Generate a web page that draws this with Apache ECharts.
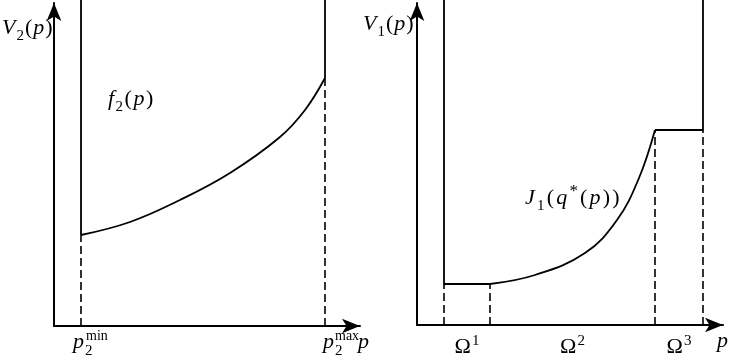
<!DOCTYPE html>
<html><head><meta charset="utf-8">
<script src="https://cdn.jsdelivr.net/npm/echarts@6/dist/echarts.min.js"></script>
<style>html,body{margin:0;padding:0;background:#fff}#c{width:730px;height:356px}</style>
</head><body><div id="c"></div>
<script>
// ---------- data (axis units) ----------
// left panel: V2(p)
const leftXMax = 306, leftYMax = 323, leftTop = 326;
const p2min = 27, p2max = 271;
const f2X = [27, 76, 126, 176, 226, 251, 271];
const f2Y = [91, 104, 126, 153, 189, 216, 248];
// right panel: V1(p)
const rightXMax = 306, rightYMax = 322, rightTop = 325;
const omegaBounds = [27, 73, 238, 286];
const lowLevel = 41, highLevel = 195;
const j1X = [73, 118, 168, 200, 222, 238];
const j1Y = [41, 50, 72, 105, 147, 195];
const omegaLabels = ['1', '2', '3'];

// ---------- chart ----------
const chart = echarts.init(document.getElementById('c'), null, {renderer: 'canvas'});
const BLACK = '#000';
function axisDef(gi, max) {
  return {type: 'value', gridIndex: gi, min: 0, max: max,
    axisLine: {show: true, onZero: false, symbol: ['none', 'arrow'], symbolSize: [11, 18],
      lineStyle: {color: BLACK, width: 2}},
    axisTick: {show: false}, axisLabel: {show: false}, splitLine: {show: false}};
}
function solid(gi, data, smooth) {
  return {type: 'line', xAxisIndex: gi, yAxisIndex: gi, data: data,
    smooth: smooth || false,
    symbol: 'none', clip: false, silent: true,
    lineStyle: {color: BLACK, width: 1.8}};
}
function dashed(gi, data) {
  return {type: 'line', xAxisIndex: gi, yAxisIndex: gi, data: data, symbol: 'none', clip: false,
    silent: true, lineStyle: {color: BLACK, width: 1.6, type: [8, 4]}};
}
const zip = (xs, ys) => xs.map((x, i) => [x, ys[i]]);
const f2 = zip(f2X, f2Y);
const j1 = zip(j1X, j1Y);
const lastF2 = f2Y[f2Y.length - 1];

const series = [
  solid(0, [[p2min, leftTop], [p2min, f2Y[0]]]),
  solid(0, f2, 0.4),
  solid(0, [[p2max, lastF2], [p2max, leftTop]]),
  dashed(0, [[p2min, 0], [p2min, f2Y[0]]]),
  dashed(0, [[p2max, 0], [p2max, lastF2]]),
  solid(1, [[omegaBounds[0], rightTop], [omegaBounds[0], lowLevel], [omegaBounds[1], lowLevel]]),
  solid(1, j1, 0.4),
  solid(1, [[omegaBounds[2], highLevel], [omegaBounds[3], highLevel], [omegaBounds[3], rightTop]]),
  dashed(1, [[omegaBounds[0], 0], [omegaBounds[0], lowLevel]]),
  dashed(1, [[omegaBounds[1], 0], [omegaBounds[1], lowLevel]]),
  dashed(1, [[omegaBounds[2], 0], [omegaBounds[2], highLevel]]),
  dashed(1, [[omegaBounds[3], 0], [omegaBounds[3], highLevel]])
];

chart.setOption({
  animation: false,
  backgroundColor: '#fff',
  grid: [
    {left: 54, top: 3, width: leftXMax, height: leftYMax},
    {left: 417, top: 3, width: rightXMax, height: rightYMax}
  ],
  xAxis: [axisDef(0, leftXMax), axisDef(1, rightXMax)],
  yAxis: [axisDef(0, leftYMax), axisDef(1, rightYMax)],
  series: series
});

// ---------- math labels ----------
const ctx = document.createElement('canvas').getContext('2d');
const FAM = "'Liberation Serif', serif";
const M = 22, S = 15;
function fnt(size, it) { return (it ? 'italic ' : '') + size + 'px ' + FAM; }
function wid(t, size, it) { ctx.font = fnt(size, it); return ctx.measureText(t).width; }
function txt(t, x, base, size, it) {
  return {type: 'text', silent: true, z: 100,
    style: {text: t, x: x, y: base - 0.34 * size, font: fnt(size, it), fill: BLACK,
      align: 'left', verticalAlign: 'middle'}};
}
function layout(x, base, parts, emit, gap) {
  let cx = x;
  parts.forEach(p => {
    if (p.sub !== undefined || p.sup !== undefined) {
      let adv = 0;
      const ss = p.size || S;
      if (p.sub !== undefined) { emit(txt(p.sub, cx, base + (p.sup !== undefined ? 6 : 5), S, false)); adv = Math.max(adv, wid(p.sub, S, false)); }
      if (p.sup !== undefined) { emit(txt(p.sup, cx + (p.supDx || 0), base - 9, ss, false)); adv = Math.max(adv, wid(p.sup, ss, false) + (p.supDx || 0)); }
      cx += adv + gap;
    } else {
      emit(txt(p.t, cx, base, M, p.i)); cx += wid(p.t, M, p.i) + gap;
    }
  });
  return cx - x - gap;
}
function math(x, base, parts, gap) { const els = []; layout(x, base, parts, e => els.push(e), gap === undefined ? 1 : gap); return els; }
function mathWidth(parts, gap) { return layout(0, 0, parts, () => {}, gap === undefined ? 1 : gap); }
const I = t => ({t: t, i: true}), R = t => ({t: t, i: false});
let g = [];
g = g.concat(math(2, 36, [I('V'), {sub: '2'}, R('('), I('p'), R(')')]));
g = g.concat(math(108, 107, [I('f'), {sub: '2'}, R('('), I('p'), R(')')], 1.5));
g = g.concat(math(363, 32, [I('V'), {sub: '1'}, R('('), I('p'), R(')')]));
g = g.concat(math(525, 206, [I('J'), {sub: '1'}, R('('), I('q'), {sup: '*', size: 17}, R('('), I('p'), R(')'), R(')')], 2.2));
g = g.concat(math(73, 350, [I('p'), {sub: '2', sup: 'min', supDx: 1, size: 14}]));
g = g.concat(math(323, 350, [I('p'), {sub: '2', sup: 'max', supDx: 0, size: 14}]));
g = g.concat(math(358, 350, [I('p')]));
g = g.concat(math(717, 349, [I('p')]));
for (let k = 0; k < 3; k++) {
  const mid = (omegaBounds[k] + omegaBounds[k + 1]) / 2;
  const px = chart.convertToPixel({gridIndex: 1}, [mid, 0])[0];
  const parts = [R('Ω'), {sup: omegaLabels[k]}];
  g = g.concat(math(px - mathWidth(parts) / 2, 355, parts));
}
chart.setOption({graphic: g});
</script>
</body></html>
